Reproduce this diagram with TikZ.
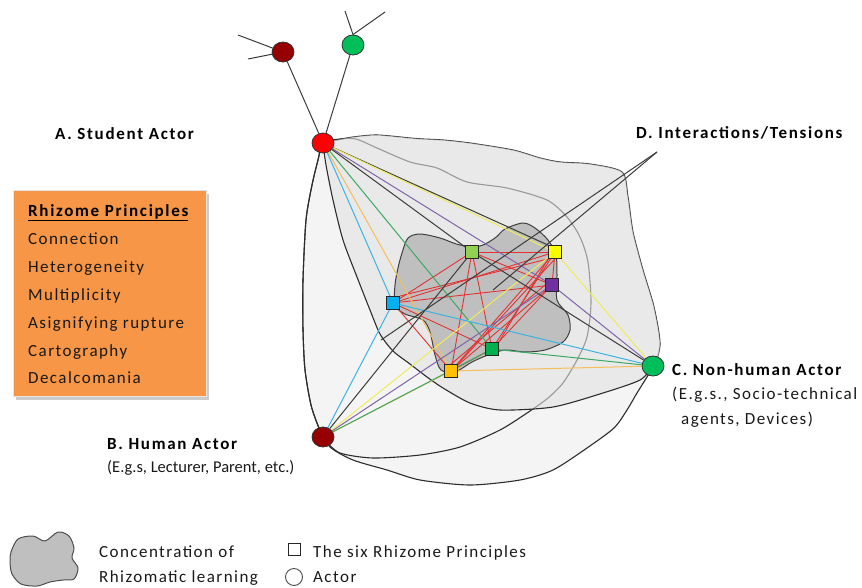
\documentclass[tikz,border=0pt]{standalone}
\usepackage{fontspec}
\setmainfont{Carlito}
\newfontfamily\lblfont{Carlito}[LetterSpace=8.5]
\newfontfamily\headfont{Carlito}[LetterSpace=10]
\newfontfamily\tightfont{Carlito}
\usetikzlibrary{shapes.geometric}
\pgfdeclarelayer{shapes}
\pgfdeclarelayer{links}
\pgfsetlayers{shapes,links,main}

\definecolor{edgegray}{RGB}{45,45,45}
\definecolor{regionfill}{RGB}{244,244,244}
\definecolor{midfill}{RGB}{226,226,226}
\definecolor{blobfill}{RGB}{191,191,191}
\definecolor{boxorange}{RGB}{247,150,70}
\definecolor{actred}{RGB}{255,0,0}
\definecolor{actmaroon}{RGB}{150,0,0}
\definecolor{actgreen}{RGB}{0,190,90}
\definecolor{sqlime}{RGB}{146,208,80}
\definecolor{sqyellow}{RGB}{255,255,0}
\definecolor{sqpurple}{RGB}{112,48,160}
\definecolor{sqblue}{RGB}{0,176,240}
\definecolor{sqgreen}{RGB}{0,176,80}
\definecolor{sqorange}{RGB}{255,192,0}
\definecolor{lnyellow}{RGB}{240,235,90}
\definecolor{lnpurple}{RGB}{128,100,170}
\definecolor{lngreen}{RGB}{60,170,100}
\definecolor{lnorange}{RGB}{245,190,90}
\definecolor{lnblue}{RGB}{60,180,225}
\definecolor{lnred}{RGB}{228,50,50}
\definecolor{lndark}{RGB}{60,60,60}
\definecolor{inktext}{RGB}{25,25,25}

\newcommand{\lblsize}{\fontsize{17}{20}\selectfont}

\begin{document}
\begin{tikzpicture}[x=1pt,y=-1pt,
  actor/.style={ellipse, draw=black!80, line width=0.8pt, minimum width=22pt, minimum height=20pt, inner sep=0pt},
  principle/.style={rectangle, draw=black!85, line width=0.8pt, minimum size=13pt, inner sep=0pt},
  outline/.style={draw=edgegray, line width=1.1pt, line join=round},
  link/.style={line width=1pt},
  redlink/.style={draw=lnred, line width=0.9pt},
  darklink/.style={draw=lndark, line width=1pt},
  txt/.style={font=\lblfont\lblsize, text=inktext, anchor=base west, inner sep=0pt},
  head/.style={font=\headfont\lblsize\bfseries, text=black, anchor=base west, inner sep=0pt}]

\useasboundingbox (0,0) rectangle (862,587);

% ---------- actors ----------
\node[actor, fill=actred]    (A)  at (323,143) {};
\node[actor, fill=actmaroon] (B)  at (323,437) {};
\node[actor, fill=actgreen]  (C)  at (653,366) {};
\node[actor, fill=actmaroon] (T1) at (283,52) {};
\node[actor, fill=actgreen]  (T2) at (353,45) {};

% ---------- the six principles ----------
\node[principle, fill=sqlime]   (LG) at (472,252) {};
\node[principle, fill=sqyellow] (Y)  at (555,252) {};
\node[principle, fill=sqpurple] (P)  at (552,285) {};
\node[principle, fill=sqblue]   (Bl) at (393,303) {};
\node[principle, fill=sqgreen]  (G)  at (492,349) {};
\node[principle, fill=sqorange] (O)  at (451,371) {};

% free ends
\coordinate (t1a) at (238,35);
\coordinate (t1b) at (248,59);
\coordinate (t2a) at (345,11);
\coordinate (t2b) at (385,12);
\coordinate (Dtip) at (657,152);
\coordinate (Dend1) at (493,290);
\coordinate (Dend2) at (381,340);

% ---------- regions ----------
\begin{pgfonlayer}{shapes}
  % outer region
  \path[outline, fill=regionfill] plot[smooth cycle, tension=0.45] coordinates {
    (323,143) (337,140) (353,137) (377,135) (410,138) (423,139) (443,140) (470,143)
    (513,150) (540,158) (560,162) (590,164) (622,172) (628,197) (633,232) (643,270)
    (653,303) (658,327) (660,345) (656,362) (647,377) (637,393) (627,410) (614,428)
    (587,448) (553,470) (520,480) (470,485) (420,480) (387,470) (353,460) (330,447)
    (319,428) (311,405) (305,370) (303,330) (303,280) (306,220) (312,185) (318,160)};
  % lens reaching down to B
  \path[outline] plot[smooth cycle, tension=0.45] coordinates {
    (323,143) (340,139) (356,139) (377,148) (410,162) (437,168) (467,182) (507,188)
    (547,200) (567,217) (580,237) (588,262) (591,303) (587,337) (577,360) (563,383)
    (548,398) (530,411) (500,430) (460,447) (420,455) (373,458) (340,453) (325,440)
    (319,428) (311,405) (305,370) (303,330) (303,280) (306,220) (312,185) (318,160)};
  % middle region between A and C
  \path[fill=midfill, fill opacity=0.6] plot[smooth cycle, tension=0.45] coordinates {
    (323,143) (337,140) (353,137) (377,135) (410,138) (423,139) (443,140) (470,143)
    (513,150) (540,158) (560,162) (590,164) (622,172) (628,197) (633,232) (643,270)
    (653,303) (658,327) (660,345) (656,362) (640,380) (603,393) (553,407) (500,410)
    (470,403) (443,388) (427,377) (410,364) (393,351) (380,334) (370,310) (357,277)
    (343,240) (333,200) (326,165)};
  \draw[outline] plot[smooth, tension=0.45] coordinates {
    (323,143) (326,165) (333,200) (343,240) (357,277) (370,310) (380,334) (393,351)
    (410,364) (427,377) (443,388) (470,403) (500,410) (553,407) (603,393) (640,380) (653,366)};
  % concentration of rhizomatic learning
  \path[draw=black!75, line width=1pt, fill=blobfill] plot[smooth cycle, tension=0.5] coordinates {
    (402,253) (408,238) (420,234) (440,238) (460,245) (480,246) (495,238) (505,229)
    (523,223) (535,228) (548,240) (556,255) (557,275) (557,300) (568,315) (570,330)
    (563,342) (545,350) (525,352) (505,350) (488,355) (472,362) (455,372) (441,370)
    (435,355) (430,332) (423,320) (405,314) (395,305) (395,285) (398,268)};
\end{pgfonlayer}

% ---------- connectors ----------
\begin{pgfonlayer}{links}
  % branches above the student actor
  \draw[darklink] (A) -- (T1);
  \draw[darklink] (A) -- (T2);
  \draw[darklink] (T1) -- (t1a);
  \draw[darklink] (T1) -- (t1b);
  \draw[darklink] (T2.north) -- (t2a);
  \draw[darklink] (T2.north) -- (t2b);

  % principles among themselves
  \foreach \u/\v in {LG/Y, LG/P, LG/Bl, LG/G, LG/O, Y/P, Y/Bl, Y/G, Y/O,
                     P/Bl, P/G, P/O, Bl/G, Bl/O, G/O}
    \draw[redlink] (\u) -- (\v);
  \draw[redlink] (Bl.north east) -- (Y.south west);
  \draw[redlink] (O.north east) -- (Y.south);
  \draw[redlink] (O.north) -- (P.west);
  \draw[redlink] (G.north east) -- (Y.south west);

  % student actor
  \draw[darklink] (A) -- (Y.north west);
  \draw[link, lnyellow] (A) -- (Y);
  \draw[link, lnpurple] (A) -- (P);
  \draw[darklink] (A) -- (LG);
  \draw[link, lngreen] (A) -- (G);
  \draw[link, lnorange] (A) -- (O);
  \draw[link, lnblue] (A) -- (Bl);

  % human actor
  \draw[link, lnblue] (B) -- (Bl);
  \draw[darklink] (B) -- (LG);
  \draw[link, lnyellow] (B) -- (Y);
  \draw[link, lnpurple] (B) -- (P);
  \draw[link, lnorange] (B) -- (O);
  \draw[link, lngreen] (B) -- (G);

  % non-human actor
  \draw[link, lnyellow] (C) -- (Y);
  \draw[link, lnpurple] (C) -- (P);
  \draw[darklink] (C) -- (LG);
  \draw[link, lnblue] (C) -- (Bl);
  \draw[link, lngreen] (C) -- (G);
  \draw[link, lnorange] (C) -- (O);

  % interactions / tensions pointer
  \draw[darklink] (Dtip) -- (Dend1);
  \draw[darklink] (Dtip) -- (Dend2);
\end{pgfonlayer}

% ---------- labels ----------
\node[head] (labA) at (55,139) {A. Student Actor};
\node[head] (labD) at (636,138) {D. Interactions/Tensions};
\node[head] (labC) at (672,375) {C. Non-human Actor};
\node[txt]  (labC1) at (672,399) {(E.g.s., Socio-technical};
\node[txt]  (labC2) at (681,424) {agents, Devices)};
\node[head] (labB) at (107,449) {B. Human Actor};
\node[txt, font=\tightfont\fontsize{16.5}{20}\selectfont] (labB1) at (107,472) {(E.g.s, Lecturer, Parent, etc.)};

% ---------- principles box ----------
\fill[black!20] (16,194) rectangle (209,400);
\node[draw=black!10, line width=1.2pt, fill=boxorange, minimum width=193pt, minimum height=206pt,
      anchor=north west, inner sep=0pt] (box) at (13,190) {};
\node[head] (boxhead) at (28,216) {\underline{Rhizome Principles}};
\node[txt] (p1) at (28,244) {Connection};
\node[txt] (p2) at (28,272) {Heterogeneity};
\node[txt] (p3) at (28,300) {Multiplicity};
\node[txt] (p4) at (28,328) {Asignifying rupture};
\node[txt] (p5) at (28,356) {Cartography};
\node[txt] (p6) at (28,383) {Decalcomania};

% ---------- legend ----------
\path[draw=black!70, line width=1pt, fill=blobfill] plot[smooth cycle, tension=0.5] coordinates {
  (11,552) (18,539) (33,536) (45,541) (58,532) (69,536) (74,548) (72,558)
  (78,568) (74,579) (63,580) (50,582) (37,586) (21,584) (12,574) (10,562)};
\node[txt] (lg1) at (99,557) {Concentration of};
\node[txt] (lg2) at (99,582) {Rhizomatic learning};
\node[rectangle, draw=black!85, line width=0.9pt, fill=white, minimum size=12pt, inner sep=0pt] (lgsq) at (294,549) {};
\node[txt] (lg3) at (313,557) {The six Rhizome Principles};
\node[circle, draw=black!70, line width=0.9pt, fill=white, minimum size=17pt, inner sep=0pt] (lgci) at (294,577) {};
\node[txt] (lg4) at (313,582) {Actor};
\end{tikzpicture}
\end{document}
